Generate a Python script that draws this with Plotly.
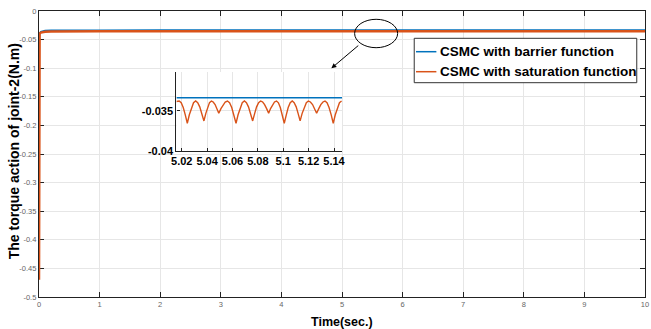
import plotly.graph_objects as go

# ---------------- data ----------------
main_t = [0, 0.002, 0.01, 0.03, 0.06, 0.1, 0.2, 0.4, 1, 2, 3, 4, 5, 6, 7, 8, 9, 10]
blue_main = [-0.057, -0.045, -0.039, -0.0362, -0.0350, -0.0343, -0.0338, -0.0336, -0.0335,
             -0.0334, -0.0334, -0.0334, -0.0334, -0.0334, -0.0334, -0.0334, -0.0334, -0.0334]
orange_main = [-0.47, -0.060, -0.0395, -0.0378, -0.0368, -0.0362, -0.0358, -0.0355, -0.0353,
               -0.0352, -0.0352, -0.0352, -0.0352, -0.0352, -0.0352, -0.0352, -0.0352, -0.0352]

blue_zoom_t = [5.0158, 5.1463]
blue_zoom = [-0.0334, -0.0334]

orange_zoom_t = [
    5.0158, 5.0180,
    5.0196, 5.0212, 5.0228, 5.0244,
    5.0260, 5.0277, 5.0293, 5.0310,
    5.0326, 5.0342, 5.0359, 5.0375,
    5.0390, 5.0404, 5.0419, 5.0434,
    5.0448, 5.0463, 5.0477, 5.0492,
    5.0509, 5.0526, 5.0543, 5.0560,
    5.0577, 5.0594, 5.0611, 5.0628,
    5.0644, 5.0661, 5.0677, 5.0694,
    5.0710, 5.0726, 5.0743, 5.0759,
    5.0775, 5.0790, 5.0806, 5.0822,
    5.0838, 5.0853, 5.0869, 5.0885,
    5.0900, 5.0916, 5.0931, 5.0947,
    5.0962, 5.0977, 5.0993, 5.1008,
    5.1024, 5.1039, 5.1055, 5.1071,
    5.1086, 5.1102, 5.1117, 5.1133,
    5.1149, 5.1166, 5.1182, 5.1198,
    5.1214, 5.1231, 5.1247, 5.1263,
    5.1280, 5.1296, 5.1313, 5.1329,
    5.1345, 5.1361, 5.1378, 5.1394,
    5.1410, 5.1427, 5.1443, 5.1460,
]
orange_zoom = [
    -0.03386, -0.03380,
    -0.03402, -0.03460, -0.03551, -0.03656,
    -0.03551, -0.03460, -0.03402, -0.03380,
    -0.03400, -0.03452, -0.03533, -0.03627,
    -0.03533, -0.03452, -0.03400, -0.03380,
    -0.03392, -0.03424, -0.03474, -0.03532,
    -0.03474, -0.03424, -0.03392, -0.03380,
    -0.03402, -0.03460, -0.03551, -0.03656,
    -0.03551, -0.03460, -0.03402, -0.03380,
    -0.03400, -0.03452, -0.03533, -0.03627,
    -0.03533, -0.03452, -0.03400, -0.03380,
    -0.03392, -0.03424, -0.03474, -0.03532,
    -0.03474, -0.03424, -0.03392, -0.03380,
    -0.03402, -0.03460, -0.03551, -0.03656,
    -0.03551, -0.03460, -0.03402, -0.03380,
    -0.03400, -0.03452, -0.03533, -0.03627,
    -0.03533, -0.03452, -0.03400, -0.03380,
    -0.03392, -0.03424, -0.03474, -0.03532,
    -0.03474, -0.03424, -0.03392, -0.03380,
    -0.03402, -0.03460, -0.03551, -0.03656,
    -0.03551, -0.03460, -0.03402, -0.03380,
]

x_ticks = [0, 1, 2, 3, 4, 5, 6, 7, 8, 9, 10]
x_ticktext = ["0", "1", "2", "3", "4", "5", "6", "7", "8", "9", "10"]
y_ticks = [0, -0.05, -0.1, -0.15, -0.2, -0.25, -0.3, -0.35, -0.4, -0.45, -0.5]
y_ticktext = ["0", "-0.05", "-0.1", "-0.15", "-0.2", "-0.25", "-0.3", "-0.35", "-0.4", "-0.45", "-0.5"]
x2_ticks = [5.02, 5.04, 5.06, 5.08, 5.1, 5.12, 5.14]
x2_ticktext = ["5.02", "5.04", "5.06", "5.08", "5.1", "5.12", "5.14"]
y2_ticks = [-0.04, -0.035]
y2_ticktext = ["-0.04", "-0.035"]

series_names = ["CSMC with barrier function", "CSMC with saturation function"]
BLUE = "#0072BD"
ORANGE = "#D95319"
FONT = "Liberation Sans, Arial, Helvetica, sans-serif"

# ---------------- figure ----------------
W, H = 651, 329
ML, MR, MT, MB = 39, 2, 11, 32
PW, PH = W - ML - MR, H - MT - MB


def px(x):
    return (x - ML) / PW


def py(y):
    return (H - MB - y) / PH


fig = go.Figure()
fig.add_trace(go.Scatter(x=main_t, y=blue_main, mode="lines", line=dict(color=BLUE, width=1.5),
                         showlegend=False, xaxis="x", yaxis="y"))
fig.add_trace(go.Scatter(x=main_t, y=orange_main, mode="lines", line=dict(color=ORANGE, width=2.5),
                         showlegend=False, xaxis="x", yaxis="y"))
fig.add_trace(go.Scatter(x=blue_zoom_t, y=blue_zoom, mode="lines", line=dict(color=BLUE, width=1.6),
                         showlegend=False, xaxis="x2", yaxis="y2"))
fig.add_trace(go.Scatter(x=orange_zoom_t, y=orange_zoom, mode="lines", line=dict(color=ORANGE, width=1.4),
                         showlegend=False, xaxis="x2", yaxis="y2"))

tickfont_main = dict(family=FONT, size=7.5, color="#666666")
tickfont_inset = dict(family=FONT, size=11, color="black", weight="bold")

shapes = [
    # inset white background
    dict(type="rect", xref="x2 domain", yref="y2 domain", x0=0, x1=1, y0=0, y1=1,
         fillcolor="white", line=dict(width=0), layer="below"),
    # ellipse
    dict(type="circle", xref="paper", yref="paper",
         x0=px(356.7), x1=px(400), y0=py(47.7), y1=py(19.3),
         line=dict(color="black", width=1)),
    # legend box
    dict(type="rect", xref="paper", yref="paper",
         x0=px(416.7), x1=px(640.7), y0=py(82.7), y1=py(38.3),
         fillcolor="white", line=dict(color="#333333", width=1)),
    # legend samples
    dict(type="line", xref="paper", yref="paper", x0=px(418.5), x1=px(439), y0=py(51.7), y1=py(51.7),
         line=dict(color=BLUE, width=1.5)),
    dict(type="line", xref="paper", yref="paper", x0=px(418.5), x1=px(439), y0=py(71.7), y1=py(71.7),
         line=dict(color=ORANGE, width=1.5)),
]

annotations = [
    dict(x=px(440.5), y=py(51.7), xref="paper", yref="paper", text=series_names[0], showarrow=False,
         xanchor="left", yanchor="middle", font=dict(family=FONT, size=13.5, color="black", weight="bold")),
    dict(x=px(440.5), y=py(71.7), xref="paper", yref="paper", text=series_names[1], showarrow=False,
         xanchor="left", yanchor="middle", font=dict(family=FONT, size=13.5, color="black", weight="bold")),
    # arrow from ellipse to inset
    dict(x=px(333.3), y=py(68.3), xref="paper", yref="paper", text="", showarrow=True,
         ax=28.4, ay=-24, arrowhead=2, arrowsize=1, arrowwidth=1, arrowcolor="black"),
    # axis titles
    dict(x=0.5, y=py(321.7), xref="paper", yref="paper", text="Time(sec.)", showarrow=False,
         xanchor="center", yanchor="middle", font=dict(family=FONT, size=12.5, color="black", weight="bold")),
    dict(x=px(14), y=0.51, xref="paper", yref="paper", text="The torque action of joint-2(N.m)",
         showarrow=False, textangle=-90, xanchor="center", yanchor="middle",
         font=dict(family=FONT, size=14, color="black", weight="bold")),
]

fig.update_layout(
    width=W, height=H,
    margin=dict(l=ML, r=MR, t=MT, b=MB, pad=0),
    paper_bgcolor="white", plot_bgcolor="white",
    showlegend=False,
    xaxis=dict(domain=[0, 1], range=[0, 10], tickvals=x_ticks, ticktext=x_ticktext,
               showgrid=True, gridcolor="#e6e6e6", gridwidth=1, zeroline=False,
               showline=True, linecolor="#222222", linewidth=1.3, mirror="ticks",
               ticks="inside", ticklen=5, tickcolor="#222222", tickwidth=1,
               tickfont=tickfont_main, layer="below traces"),
    yaxis=dict(domain=[0, 1], range=[-0.5, 0], tickvals=y_ticks, ticktext=y_ticktext,
               showgrid=True, gridcolor="#e6e6e6", gridwidth=1, zeroline=False,
               showline=True, linecolor="#222222", linewidth=1.3, mirror="ticks",
               ticks="inside", ticklen=5, tickcolor="#222222", tickwidth=1,
               tickfont=tickfont_main, layer="below traces"),
    xaxis2=dict(domain=[px(177.3), px(344)], range=[5.0158, 5.1463], anchor="y2",
                tickvals=x2_ticks, ticktext=x2_ticktext,
                showgrid=True, gridcolor="#e6e6e6", gridwidth=1, zeroline=False,
                showline=True, linecolor="#222222", linewidth=1.3, mirror=False,
                ticks="inside", ticklen=3, tickcolor="#222222", tickfont=tickfont_inset),
    yaxis2=dict(domain=[py(151), py(72)], range=[-0.04, -0.0302], anchor="x2",
                tickvals=y2_ticks, ticktext=y2_ticktext,
                showgrid=True, gridcolor="#e6e6e6", gridwidth=1, zeroline=False,
                showline=True, linecolor="#222222", linewidth=1.3, mirror=False,
                ticks="inside", ticklen=3, tickcolor="#222222", tickfont=tickfont_inset),
    shapes=shapes,
    annotations=annotations,
)

fig.write_html("out.html")
